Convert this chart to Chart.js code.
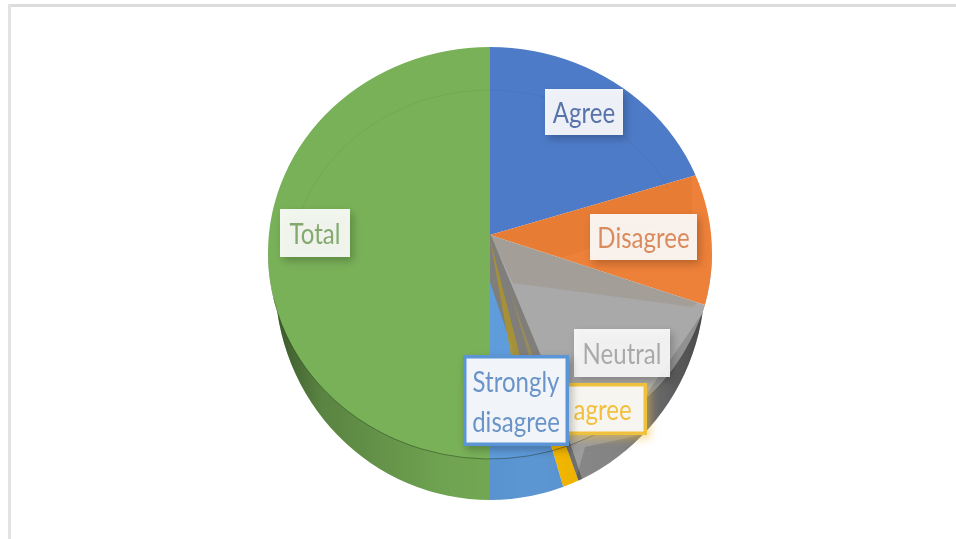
<!DOCTYPE html>
<html>
<head>
<meta charset="utf-8">
<style>
  html, body { margin: 0; padding: 0; background: #fff; }
  #frame { position: absolute; left: 0; top: 0; width: 956px; height: 539px; overflow: hidden; }
  #edgeTop { position: absolute; left: 8px; top: 4px; width: 948px; height: 3px; background: #dcdcdc; }
  #edgeLeft { position: absolute; left: 8px; top: 4px; width: 3px; height: 535px; background: #e2e2e2; }
  canvas { position: absolute; left: 0; top: 0; }
</style>
<script src="https://cdn.jsdelivr.net/npm/chart.js@4"></script>
</head>
<body>
<div id="frame">
  <canvas id="pie" width="956" height="539"></canvas>
  <div id="edgeTop"></div>
  <div id="edgeLeft"></div>
</div>
<script>
const categories = ['Agree', 'Disagree', 'Neutral', 'Strongly agree', 'Strongly disagree', 'Total'];
const responses = [41, 19, 29, 2, 9, 100];
const sliceColors = ['#4e7bc8', '#ee8139', '#a9a9a9', '#ffc000', '#5f9cdc', '#79b158'];
const labelInk = ['#5872aa', '#da8b5e', '#a9a9a9', '#f3c03e', '#6a94c8', '#84a96e'];

// Label boxes, in draw order of the categories
const labelBoxes = [
  { x: 545, y: 89, w: 78, h: 46, fill: 'rgba(255,255,255,0.91)' },
  { x: 590, y: 214, w: 107, h: 46, fill: 'rgba(255,255,255,0.91)' },
  { x: 574, y: 329, w: 96, h: 48, fill: 'rgba(255,255,255,0.88)' },
  { x: 465, y: 383, w: 182, h: 52, fill: '#f6f5ef', border: '#f0c13f' },
  { x: 463, y: 355, w: 106, h: 91, fill: '#f1f5fa', border: '#5b95d6', lines: ['Strongly', 'disagree'] },
  { x: 280, y: 209, w: 70, h: 48, fill: 'rgba(255,255,255,0.9)' }
];

// Tilted disc: the upper face and the lower rim it sits on
const face = { x: 490, y: 253, rx: 222, ry: 206 };
const rim = { x: 490, y: 280, rx: 215, ry: 220 };

// The pie is laid out small and enlarged about its hub so the slices reach the rim
const hubScale = 1.25;

function ellipsePath(ctx, e) {
  ctx.ellipse(e.x, e.y, e.rx, e.ry, 0, 0, Math.PI * 2);
}

function discClip(ctx) {
  ctx.beginPath();
  ellipsePath(ctx, face);
  ctx.moveTo(rim.x + rim.rx, rim.y);
  ellipsePath(ctx, rim);
  ctx.clip('nonzero');
}

function sliceClip(ctx, arc) {
  ctx.beginPath();
  ctx.moveTo(arc.x, arc.y);
  ctx.arc(arc.x, arc.y, arc.outerRadius * hubScale, arc.startAngle, arc.endAngle);
  ctx.closePath();
  ctx.clip();
}

function fillShape(ctx, points, color) {
  ctx.beginPath();
  points.forEach((p, i) => (i ? ctx.lineTo(p[0], p[1]) : ctx.moveTo(p[0], p[1])));
  ctx.closePath();
  ctx.fillStyle = color;
  ctx.fill();
}

const discPlugin = {
  id: 'disc',
  beforeDatasetsDraw(chart) {
    const ctx = chart.ctx;
    const hub = chart.getDatasetMeta(0).data[0];
    ctx.save();
    discClip(ctx);
    ctx.translate(hub.x, hub.y);
    ctx.scale(hubScale, hubScale);
    ctx.translate(-hub.x, -hub.y);
  },
  afterDatasetsDraw(chart) {
    const ctx = chart.ctx;
    ctx.restore();
    ctx.save();
    discClip(ctx);
    const arcs = chart.getDatasetMeta(0).data;
    const hub = arcs[0];

    // facets on the orange slice
    ctx.save();
    sliceClip(ctx, arcs[1]);
    fillShape(ctx, [[hub.x, hub.y], [692, 165], [692, 215], [563, 257]], 'rgba(120,50,0,0.06)');
    ctx.restore();

    // facets on the grey slice
    ctx.save();
    sliceClip(ctx, arcs[2]);
    fillShape(ctx, [[hub.x, hub.y], [710, 290], [693, 307], [513, 283]], 'rgba(130,90,50,0.14)');
    fillShape(ctx, [[541, 355], [580, 473], [590, 500], [540, 500]], 'rgba(40,40,40,0.38)');
    fillShape(ctx, [[706, 308], [648, 392], [636, 436], [585, 447], [570, 500], [720, 500]], 'rgba(0,0,0,0.14)');
    ctx.restore();

    // inner cut-away beside the hub, with its thin yellow streaks
    fillShape(ctx, [[hub.x, hub.y - 2], [490, 282], [515, 356], [541, 356]], '#7f7e7a');
    fillShape(ctx, [[hub.x, hub.y + 4], [511, 356], [520, 356]], 'rgba(176,150,40,0.8)');
    fillShape(ctx, [[510, 292], [529, 356], [533, 356]], 'rgba(170,150,70,0.55)');

    // side wall: whatever the lower rim shows beyond the upper face
    const wall = ctx.createLinearGradient(face.x - face.rx, 0, face.x + face.rx, 0);
    wall.addColorStop(0, 'rgba(0,0,0,0.55)');
    wall.addColorStop(0.12, 'rgba(0,0,0,0.26)');
    wall.addColorStop(0.4, 'rgba(0,0,0,0.08)');
    wall.addColorStop(0.6, 'rgba(0,0,0,0.04)');
    wall.addColorStop(0.8, 'rgba(0,0,0,0.1)');
    wall.addColorStop(1, 'rgba(0,0,0,0.55)');
    ctx.save();
    ctx.beginPath();
    ctx.rect(0, face.y, chart.width, chart.height - face.y);
    ellipsePath(ctx, face);
    ctx.clip('evenodd');
    ctx.fillStyle = wall;
    ctx.fillRect(0, face.y, chart.width, chart.height - face.y);
    ctx.restore();

    // rim line where the face meets the wall, and the faint inner ring
    ctx.beginPath();
    ctx.ellipse(face.x, face.y, face.rx, face.ry, 0, Math.PI * 0.1, Math.PI * 0.93);
    ctx.strokeStyle = 'rgba(30,50,20,0.45)';
    ctx.lineWidth = 1;
    ctx.stroke();
    ctx.beginPath();
    ctx.ellipse(490, 270, 200, 180, 0, Math.PI * 1.05, Math.PI * 1.85);
    ctx.strokeStyle = 'rgba(0,0,0,0.05)';
    ctx.stroke();

    ctx.restore();

    // labels come last so each box sits over the disc
    categories.forEach((name, i) => drawLabel(ctx, name, i));
  }
};

function drawLabel(ctx, name, i) {
  const box = labelBoxes[i];
  ctx.save();
  ctx.shadowColor = i === 3 ? 'rgba(240,190,60,0.5)' : 'rgba(0,0,0,0.25)';
  ctx.shadowBlur = 8;
  ctx.shadowOffsetX = 3;
  ctx.shadowOffsetY = 4;
  ctx.fillStyle = box.fill;
  ctx.fillRect(box.x, box.y, box.w, box.h);
  ctx.restore();
  if (box.border) {
    ctx.strokeStyle = box.border;
    ctx.lineWidth = 3.5;
    ctx.strokeRect(box.x + 1.75, box.y + 1.75, box.w - 3.5, box.h - 3.5);
  }
  const lines = box.lines || [name];
  const lineHeight = 40;
  const cx = box.x + box.w / 2;
  const cy = box.y + box.h / 2 + 2;
  lines.forEach((line, n) => {
    ctx.save();
    ctx.translate(cx, cy + (n - (lines.length - 1) / 2) * lineHeight);
    ctx.scale(0.89, 1.08);
    ctx.font = '27px Lato';
    ctx.fillStyle = labelInk[i];
    ctx.textAlign = 'center';
    ctx.textBaseline = 'middle';
    ctx.fillText(line, 0, 0);
    ctx.restore();
  });
}

new Chart(document.getElementById('pie'), {
  type: 'pie',
  data: {
    labels: categories,
    datasets: [{ data: responses, backgroundColor: sliceColors, borderWidth: 0 }]
  },
  options: {
    responsive: false,
    animation: false,
    layout: { padding: { left: 255, right: 231, top: 0, bottom: 69 } },
    plugins: { legend: { display: false }, tooltip: { enabled: false } }
  },
  plugins: [discPlugin]
});
</script>
</body>
</html>
